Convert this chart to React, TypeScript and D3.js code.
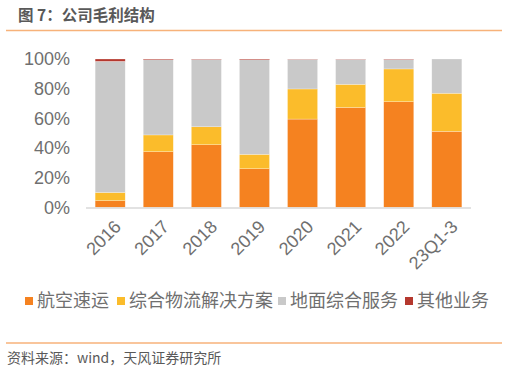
import React from "react";
import * as d3 from "d3";

const categories = ["2016", "2017", "2018", "2019", "2020", "2021", "2022", "23Q1-3"];
const seriesNames = ["航空速运", "综合物流解决方案", "地面综合服务", "其他业务"];
const airExpress = [4.5, 37.5, 42.2, 26.0, 59.5, 67.3, 71.2, 51.2];
const logistics = [5.5, 11.3, 12.1, 9.7, 20.3, 15.6, 22.1, 25.7];
const ground = [88.4, 50.7, 45.4, 63.8, 20.0, 16.9, 6.4, 23.1];
const other = [1.6, 0.5, 0.3, 0.5, 0.2, 0.2, 0.3, 0.0];
const yTicks = [0, 20, 40, 60, 80, 100];
const colors = ["#F58220", "#FBBC2B", "#C9C9C9", "#B5382E"];

export default function App() {
  const W = 508, H = 371;
  const x = d3.scaleBand().domain(categories).range([86, 471]).paddingInner(0.375).paddingOuter(0.19);
  const y = d3.scaleLinear().domain([0, 100]).range([207.3, 59]);
  const rows = categories.map((c, i) => ({
    cat: c, a: airExpress[i], b: logistics[i], g: ground[i], o: other[i],
  }));
  const stack = d3.stack<any>().keys(["a", "b", "g", "o"])(rows);
  const font = "'Liberation Sans', Arial, 'Noto Sans CJK SC', sans-serif";
  const cjk = "'Noto Sans CJK SC', 'Liberation Sans', sans-serif";

  const legendX = [25, 117, 278, 405];

  return (
    <svg width={W} height={H} style={{ position: "absolute", left: 0, top: 0, background: "#fff" }}>
      <text x={18} y={21} fontSize={15.5} fontWeight="bold" fill="#595959" fontFamily={cjk}>图 7：公司毛利结构</text>
      <line x1={6} x2={502} y1={30.5} y2={30.5} stroke="#F7B27A" strokeWidth={1.5} />

      {yTicks.map(t => (
        <text key={t} x={70} y={y(t)} dy="0.36em" textAnchor="end" fontSize={18} fill="#6f6f6f" fontFamily={font}>{t}%</text>
      ))}

      {stack.map((s, si) => (
        <g key={si} fill={colors[si]}>
          {s.map((d, i) => (
            <rect key={i} x={x(categories[i])} width={x.bandwidth()} y={y(d[1])}
              height={Math.max(0, y(d[0]) - y(d[1]))} stroke="#ffffff" strokeOpacity={0.5} strokeWidth={0.5} />
          ))}
        </g>
      ))}

      <line x1={86} x2={471} y1={208} y2={208} stroke="#d9d9d9" strokeWidth={1.5} />

      {categories.map(c => {
        const cx = (x(c) as number) + x.bandwidth() / 2 + 3;
        return (
          <text key={c} transform={`translate(${cx},${219}) rotate(-45)`} textAnchor="end" dy="0.7em"
            fontSize={18} fill="#6f6f6f" fontFamily={font}>{c}</text>
        );
      })}

      {seriesNames.map((n, i) => (
        <g key={n}>
          <rect x={legendX[i]} y={297} width={8} height={8} fill={colors[i]} />
          <text x={legendX[i] + 12} y={301} dy="0.36em" fontSize={18} fill="#6f6f6f" fontFamily={cjk}>{n}</text>
        </g>
      ))}

      <line x1={6} x2={502} y1={343} y2={343} stroke="#F7B27A" strokeWidth={1.5} />
      <text x={7} y={363} fontSize={14} fill="#595959" fontFamily={cjk}>资料来源：wind，天风证券研究所</text>
    </svg>
  );
}
